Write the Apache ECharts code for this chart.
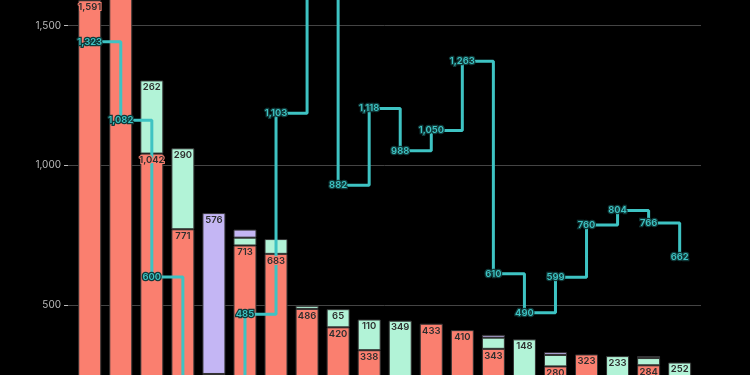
<!DOCTYPE html>
<html><head><meta charset="utf-8">
<script src="https://cdn.jsdelivr.net/npm/echarts@6/dist/echarts.min.js"></script>
<style>html,body{margin:0;padding:0;background:#000}#c{width:750px;height:375px}</style>
</head><body><div id="c"></div>
<script>
const categories = ['1','2','3','4','5','6','7','8','9','10','11','12','13','14','15','16','17','18','19','20'];
const redValues    = [1591, 1750, 1042, 771, 253, 713, 683, 486, 420, 338, 95, 433, 410, 343, 229, 280, 323, 84, 284, 42];
const greenValues  = [0, 0, 262, 290, 0, 28, 53, 11, 65, 110, 349, 0, 0, 40, 148, 41, 0, 233, 26, 252];
const purpleValues = [0, 0, 0, 0, 576, 29, 0, 0, 0, 0, 0, 0, 0, 10, 0, 10, 0, 0, 7, 0];
const lineValues   = [1323, 1082, 600, 210, 240, 485, 1103, 1600, 882, 1118, 988, 1050, 1263, 610, 490, 599, 760, 804, 766, 662];
const yTickLabels  = ['0', '500', '1,000', '1,500', '2,000'];

const FONT = 'Inter';
const fmt = v => Number(v).toLocaleString('en-US');
const nz = arr => arr.map(v => v === 0 ? '-' : v);

// coloured bars (no labels) in grid 1
function barSeries(name, data, color) {
  return {
    name, type: 'bar', stack: 'total', xAxisIndex: 1, yAxisIndex: 1,
    data: nz(data), barWidth: 23,
    itemStyle: { color, borderColor: '#333', borderWidth: 1 },
    label: { show: false },
    z: 2
  };
}
// transparent copy in grid 3 carrying the labels, drawn above the line
function labelSeries(name, data, color) {
  return {
    name: name + '-labels', type: 'bar', stack: 'labels', xAxisIndex: 3, yAxisIndex: 3,
    data: nz(data), barWidth: 23,
    itemStyle: { color: 'rgba(0,0,0,0)', borderWidth: 0 },
    label: {
      show: true, position: 'insideTop', distance: 2,
      formatter: p => (p.value >= 60 ? fmt(p.value) : ''),
      color: '#2e2e2e', fontFamily: FONT, fontSize: 9.5, fontWeight: 600,
      textBorderColor: color, textBorderWidth: 2
    },
    silent: true,
    z: 5
  };
}

const G = { outerBoundsMode: 'none', containLabel: false };
const chart = echarts.init(document.getElementById('c'), null, { renderer: 'canvas' });
chart.setOption({
  backgroundColor: '#000',
  animation: false,
  grid: [
    Object.assign({ left: 68, right: 49, top: -114, bottom: -69.65 }, G),
    Object.assign({ left: 74.2, right: 54.8, top: -114, bottom: -69.65 }, G),
    Object.assign({ left: 74.2, right: 54.8, top: -113.4, bottom: -97.1 }, G),
    Object.assign({ left: 74.2, right: 54.8, top: -114, bottom: -69.65 }, G)
  ],
  xAxis: [
    { gridIndex: 0, type: 'category', data: categories, show: false },
    { gridIndex: 1, type: 'category', data: categories, show: false },
    { gridIndex: 2, type: 'category', data: categories, show: false },
    { gridIndex: 3, type: 'category', data: categories, show: false }
  ],
  yAxis: [
    {
      gridIndex: 0, type: 'value', min: 0, max: 2000, interval: 500,
      axisLine: { show: false },
      axisTick: { show: true, length: 4, lineStyle: { color: '#bbb' } },
      axisLabel: {
        color: '#bbb', fontFamily: FONT, fontSize: 10, margin: 7,
        formatter: (v) => yTickLabels[Math.round(v / 500)] || fmt(v)
      },
      splitLine: { show: true, lineStyle: { color: '#444', width: 1 } }
    },
    { gridIndex: 1, type: 'value', min: 0, max: 2000, show: false, splitLine: { show: false } },
    { gridIndex: 2, type: 'value', min: 0, max: 1800, show: false, splitLine: { show: false } },
    { gridIndex: 3, type: 'value', min: 0, max: 2000, show: false, splitLine: { show: false } }
  ],
  series: [
    barSeries('red', redValues, '#fa7f6f'),
    barSeries('green', greenValues, '#b2f3d7'),
    barSeries('purple', purpleValues, '#c4b6f4'),
    {
      name: 'line', type: 'line', step: 'end', xAxisIndex: 2, yAxisIndex: 2,
      data: lineValues,
      symbol: 'circle', symbolSize: 0.1, showSymbol: true,
      lineStyle: { color: '#3ec3c3', width: 3 },
      itemStyle: { color: '#3ec3c3' },
      label: {
        show: true, position: 'inside', formatter: p => fmt(p.value),
        color: '#3ec3c3', fontFamily: FONT, fontSize: 9.5, fontWeight: 600,
        textBorderColor: '#103a3a', textBorderWidth: 2.5
      },
      z: 3
    },
    labelSeries('red', redValues, '#fa7f6f'),
    labelSeries('green', greenValues, '#b2f3d7'),
    labelSeries('purple', purpleValues, '#c4b6f4')
  ]
});
</script>
</body></html>
